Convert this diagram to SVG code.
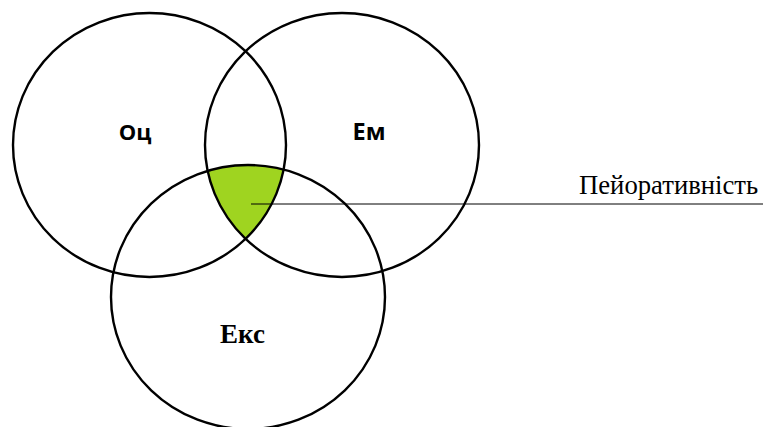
<svg xmlns="http://www.w3.org/2000/svg" width="763" height="427" viewBox="0 0 763 427">
<style>
.c{fill:none;stroke:#000;stroke-width:2.4}
.sans{font-family:"Open Sans","Liberation Sans",sans-serif;font-weight:bold;fill:#000}
.serif{font-family:"Liberation Serif","Times New Roman",serif;fill:#000}
</style>
<defs>
<clipPath id="cL"><ellipse cx="149.5" cy="145" rx="136.5" ry="132"/></clipPath>
<clipPath id="cR"><ellipse cx="342" cy="145" rx="137" ry="132"/></clipPath>
</defs>
<rect width="763" height="427" fill="#fff"/>
<g id="region">
<g clip-path="url(#cL)"><g clip-path="url(#cR)"><ellipse cx="248" cy="297" rx="137" ry="132" fill="#9FD420"/></g></g>
</g>
<g id="oc">
<ellipse class="c" cx="149.5" cy="145" rx="136.5" ry="132"/>
<text class="sans" x="135" y="139.5" text-anchor="middle" font-size="22">Оц</text>
</g>
<g id="em">
<ellipse class="c" cx="342" cy="145" rx="137" ry="132"/>
<text class="sans" x="369" y="140" text-anchor="middle" font-size="23.5">Ем</text>
</g>
<g id="eks">
<ellipse class="c" cx="248" cy="297" rx="137" ry="132"/>
<text class="serif" x="242.5" y="342.5" text-anchor="middle" font-weight="bold" font-size="27">Екс</text>
</g>
<g id="connectors">
<line x1="251" y1="204" x2="763" y2="204" stroke="#000" stroke-width="1"/>
</g>
<g id="label">
<text class="serif" x="579" y="194" font-size="26.7">Пейоративність</text>
</g>
</svg>
